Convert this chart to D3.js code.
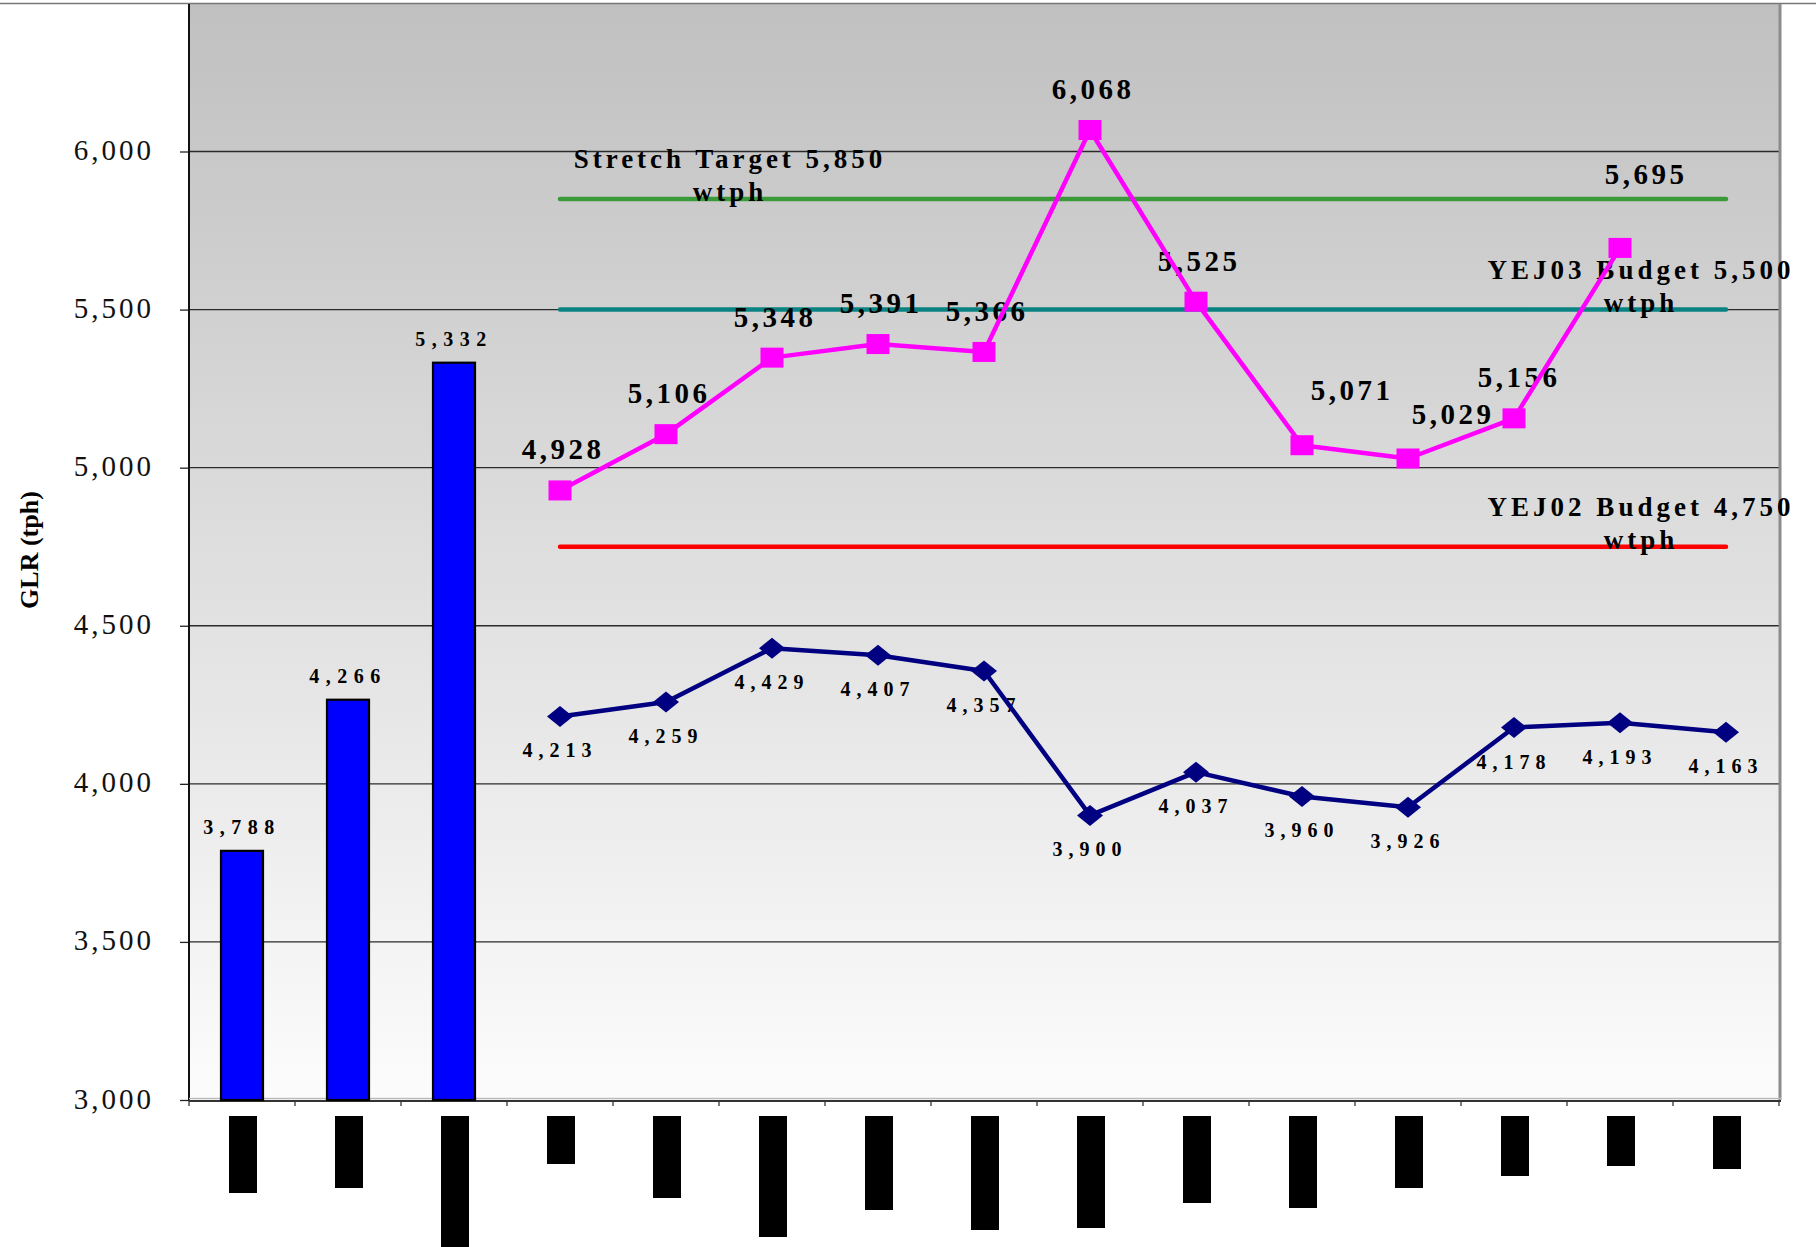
<!DOCTYPE html>
<html><head><meta charset="utf-8">
<script src="https://cdn.jsdelivr.net/npm/d3@7"></script>
<style>html,body{margin:0;padding:0;background:#fff;overflow:hidden}</style>
</head><body>
<svg id="chart" width="1816" height="1247"></svg>
<script>
// ---------------- DATA ----------------
const categories = ["P1","P2","P3","P4","P5","P6","P7","P8","P9","P10","P11","P12","P13","P14","P15"];
const barValues = [3788, 4266, 5332];                       // categories 1-3
const lineStartIndex = 3;                                   // line series start at category 4
const actualValues = [4928, 5106, 5348, 5391, 5366, 6068, 5525, 5071, 5029, 5156, 5695];      // magenta
const previousValues = [4213, 4259, 4429, 4407, 4357, 3900, 4037, 3960, 3926, 4178, 4193, 4163]; // navy
const targetLabels = ["Stretch Target 5,850", "YEJ03 Budget 5,500", "YEJ02 Budget 4,750"];
const targetValues = [5850, 5500, 4750];
const yTickValues = [3000, 3500, 4000, 4500, 5000, 5500, 6000];
const yTitle = "GLR (tph)";
const redactedLabelLengths = [77, 72, 131, 48, 82, 121, 94, 114, 112, 87, 92, 72, 60, 50, 53]; // hidden category labels

// ---------------- LAYOUT ----------------
const W = 1816, H = 1247;
const plotL = 189, plotR = 1780, plotT = 4, plotB = 1100;
const svg = d3.select("#chart");
const x = d3.scaleBand().domain(categories).range([plotL, 1779]).padding(0);
const y = d3.scaleLinear().domain([3000, 6000]).range([plotB, 151.5]);
const cx = i => x(categories[i]) + x.bandwidth() / 2;
const serif = "'Liberation Serif','Times New Roman',serif";

// background gradient
const defs = svg.append("defs");
const grad = defs.append("linearGradient").attr("id", "bg")
  .attr("x1", 0).attr("y1", 0).attr("x2", 0).attr("y2", 1);
grad.append("stop").attr("offset", "0%").attr("stop-color", "#c0c0c0");
grad.append("stop").attr("offset", "100%").attr("stop-color", "#fcfcfc");
svg.append("rect").attr("x", plotL).attr("y", plotT).attr("width", plotR - plotL).attr("height", plotB - plotT)
  .attr("fill", "url(#bg)");

// top border line
svg.append("line").attr("x1", 0).attr("x2", W).attr("y1", 3.5).attr("y2", 3.5)
  .attr("stroke", "#777").attr("stroke-width", 1.5);

// gridlines
svg.append("g").selectAll("line").data(yTickValues.filter(v => v > 3000)).join("line")
  .attr("x1", plotL).attr("x2", plotR).attr("y1", d => y(d)).attr("y2", d => y(d))
  .attr("stroke", "#2a2a2a").attr("stroke-width", 1.3);

// y axis
const yAxis = d3.axisLeft(y).tickValues(yTickValues).tickSize(9).tickPadding(0).tickFormat(() => "");
const yg = svg.append("g").attr("transform", `translate(${plotL},0)`).call(yAxis);
yg.select(".domain").remove();
yg.selectAll(".tick line").attr("stroke", "#222").attr("stroke-width", 1.3);
svg.append("g").selectAll("text").data(yTickValues).join("text")
  .attr("x", 154).attr("y", d => y(d) + 8.5)
  .attr("text-anchor", "end").attr("font-family", serif).attr("font-size", 29)
  .attr("letter-spacing", 3).attr("fill", "#111")
  .text(d => d3.format(",")(d));
svg.append("line").attr("x1", plotL).attr("x2", plotL).attr("y1", plotT).attr("y2", plotB + 1)
  .attr("stroke", "#111").attr("stroke-width", 2);

// right border
svg.append("line").attr("x1", plotR).attr("x2", plotR).attr("y1", plotT).attr("y2", plotB)
  .attr("stroke", "#8c8c8c").attr("stroke-width", 3);

// x axis
svg.append("line").attr("x1", plotL).attr("x2", plotR + 1).attr("y1", plotB - 1.5).attr("y2", plotB - 1.5)
  .attr("stroke", "#bbb").attr("stroke-width", 1.5);
svg.append("line").attr("x1", plotL).attr("x2", plotR + 1).attr("y1", plotB + 1).attr("y2", plotB + 1)
  .attr("stroke", "#333").attr("stroke-width", 2);
const bounds = categories.map(c => x(c)).concat([x(categories[categories.length - 1]) + x.bandwidth()]);
svg.append("g").selectAll("line").data(bounds).join("line")
  .attr("x1", d => d).attr("x2", d => d).attr("y1", plotB).attr("y2", plotB + 6)
  .attr("stroke", "#333").attr("stroke-width", 1.3);

// redacted category labels (black boxes)
svg.append("g").selectAll("rect").data(redactedLabelLengths).join("rect")
  .attr("x", (d, i) => cx(i) - 13).attr("y", plotB + 16)
  .attr("width", 28).attr("height", d => d).attr("fill", "#000");

// bars
const barW = 42;
svg.append("g").selectAll("rect").data(barValues).join("rect")
  .attr("x", (d, i) => cx(i) - barW / 2).attr("y", d => y(d))
  .attr("width", barW).attr("height", d => y(3000) - y(d))
  .attr("fill", "#0000ff").attr("stroke", "#000").attr("stroke-width", 2.2);
svg.append("g").selectAll("text").data(barValues).join("text")
  .attr("x", (d, i) => cx(i) + 0).attr("y", d => y(d) - 17)
  .attr("text-anchor", "middle").attr("font-family", serif).attr("font-weight", "bold")
  .attr("font-size", 20).attr("letter-spacing", 6.5).attr("fill", "#000")
  .text(d => d3.format(",")(d));

// target lines
const tStart = cx(lineStartIndex), tEnd = cx(categories.length - 1);
const targetColors = ["#3a9a3a", "#0a8282", "#ff0000"];
svg.append("g").selectAll("line").data(targetValues).join("line")
  .attr("x1", tStart).attr("x2", tEnd).attr("y1", d => y(d)).attr("y2", d => y(d))
  .attr("stroke", (d, i) => targetColors[i]).attr("stroke-width", 4.5).attr("stroke-linecap", "round");

// target labels
const targetLabelX = [728, 1639, 1639];
targetValues.forEach((v, i) => {
  const t = svg.append("text").attr("text-anchor", "middle").attr("font-family", serif)
    .attr("font-weight", "bold").attr("font-size", 27).attr("letter-spacing", 4).attr("fill", "#000");
  t.append("tspan").attr("x", targetLabelX[i] + 2).attr("y", y(v) - 31).text(targetLabels[i]);
  t.append("tspan").attr("x", targetLabelX[i] + 2).attr("y", y(v) + 2).text("wtph");
});

// data labels: navy (below)
const prevPts = previousValues.map((v, i) => ({ i: i + lineStartIndex, v }));
const actPts = actualValues.map((v, i) => ({ i: i + lineStartIndex, v }));
svg.append("g").selectAll("text").data(prevPts).join("text")
  .attr("x", d => cx(d.i)).attr("y", d => y(d.v) + 41)
  .attr("text-anchor", "middle").attr("font-family", serif).attr("font-weight", "bold")
  .attr("font-size", 20).attr("letter-spacing", 6).attr("fill", "#000")
  .text(d => d3.format(",")(d.v));

// data labels: magenta (above), a few nudged as in the original
const labelNudgeX = [0, 0, 0, 0, 0, 0, 0, 47, 42, 2, 23];
const labelNudgeY = [0, 0, 0, 0, 0, 0, 0, -14, -3, 0, -33];
svg.append("g").selectAll("text").data(actPts).join("text")
  .attr("x", (d, k) => cx(d.i) + 3 + labelNudgeX[k]).attr("y", (d, k) => y(d.v) - 31 + labelNudgeY[k])
  .attr("text-anchor", "middle").attr("font-family", serif).attr("font-weight", "bold")
  .attr("font-size", 29).attr("letter-spacing", 3.5).attr("fill", "#000")
  .text(d => d3.format(",")(d.v));

// lines
const lineGen = d3.line().x(d => cx(d.i)).y(d => y(d.v));
svg.append("path").datum(prevPts).attr("d", lineGen).attr("fill", "none")
  .attr("stroke", "#000080").attr("stroke-width", 4.5).attr("stroke-linejoin", "round");
svg.append("path").datum(actPts).attr("d", lineGen).attr("fill", "none")
  .attr("stroke", "#ff00ff").attr("stroke-width", 4.5).attr("stroke-linejoin", "round");

// markers
svg.append("g").selectAll("path").data(prevPts).join("path")
  .attr("d", d => { const px = cx(d.i), py = y(d.v);
    return `M${px - 13},${py}L${px},${py - 10.5}L${px + 13},${py}L${px},${py + 10.5}Z`; })
  .attr("fill", "#000080");
svg.append("g").selectAll("rect").data(actPts).join("rect")
  .attr("x", d => cx(d.i) - 11.5).attr("y", d => y(d.v) - 10)
  .attr("width", 23).attr("height", 20).attr("fill", "#ff00ff");

// y title
svg.append("text").attr("transform", "translate(38,550) rotate(-90)")
  .attr("text-anchor", "middle").attr("font-family", serif).attr("font-weight", "bold")
  .attr("font-size", 26).attr("fill", "#000").text(yTitle);
</script>
</body></html>
